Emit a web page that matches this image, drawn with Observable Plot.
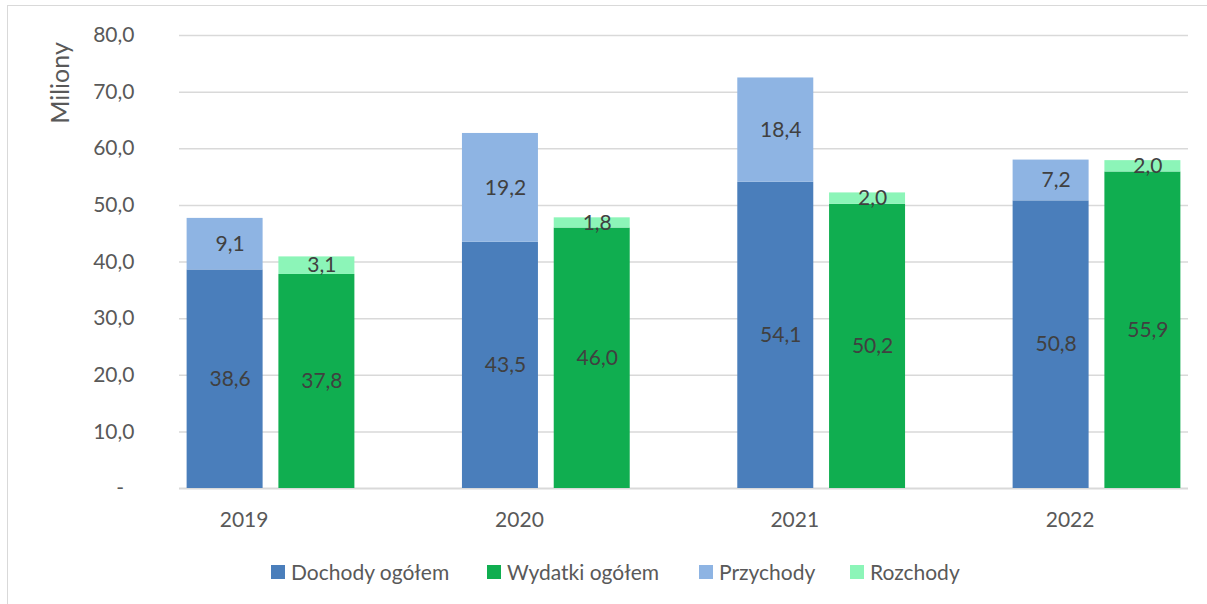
<!DOCTYPE html>
<html>
<head>
<meta charset="utf-8">
<script src="https://cdn.jsdelivr.net/npm/d3@7"></script>
<script src="https://cdn.jsdelivr.net/npm/@observablehq/plot@0.6"></script>
<style>
  html, body { margin: 0; padding: 0; background: #fff; overflow: hidden; }
  body { width: 1207px; height: 604px; position: relative; font-family: Lato, "Open Sans", sans-serif; }
  #frame { position: absolute; left: 7px; top: 5px; width: 1210px; height: 610px; border: 1px solid #d9d9d9; box-sizing: border-box; }
  #chart { position: absolute; left: 0; top: 0; }
  #ylabel { position: absolute; left: 51px; top: 77px; transform: translate(-50%, -50%) rotate(-90deg); font-size: 25px; color: #595959; white-space: nowrap; line-height: 1; }
  #legend { position: absolute; left: 263px; top: 554px; display: flex; align-items: center; font-size: 21px; color: #595959; line-height: 24px; white-space: nowrap; }
  #legend .item { display: flex; align-items: center; }
  #legend .item:nth-child(1) { width: 216px; }
  #legend .item:nth-child(2) { width: 212px; }
  #legend .item:nth-child(3) { width: 151px; }
  #legend .sw { width: 14px; height: 14px; margin-right: 6px; }
</style>
</head>
<body>
<div id="frame">
  <div id="chart"></div>
  <div id="ylabel">Miliony</div>
  <div id="legend"></div>
</div>
<script>
// ---- data ----
const years = ["2019", "2020", "2021", "2022"];
const dochody = [38.6, 43.5, 54.1, 50.8];
const przychody = [9.1, 19.2, 18.4, 7.2];
const wydatki = [37.8, 46.0, 50.2, 55.9];
const rozchody = [3.1, 1.8, 2.0, 2.0];
const seriesNames = ["Dochody ogółem", "Wydatki ogółem", "Przychody", "Rozchody"];
const seriesColors = ["#4a7ebb", "#10ae50", "#8eb4e3", "#8cf5b8"];
const yTicks = [0, 10, 20, 30, 40, 50, 60, 70, 80];

// ---- table ----
// x slots: for each year a "D" column (dochody + przychody), a "W" column
// (wydatki + rozchody), and an empty spacer slot between year groups
const slots = years.flatMap((y, i) => i < years.length - 1 ? [y + " D", y + " W", y + " _"] : [y + " D", y + " W"]);
const rows = [];
years.forEach((year, i) => {
  rows.push({slot: year + " D", series: "Dochody ogółem", value: dochody[i]});
  rows.push({slot: year + " D", series: "Przychody", value: przychody[i]});
  rows.push({slot: year + " W", series: "Wydatki ogółem", value: wydatki[i]});
  rows.push({slot: year + " W", series: "Rozchody", value: rozchody[i]});
});

const fmt = v => v === 0 ? "-\u2002" : v.toFixed(1).replace(".", ",");

const chart = Plot.plot({
  width: 1199,
  height: 540,
  marginLeft: 171,
  marginRight: 19,
  marginTop: 29,
  marginBottom: 58,
  style: { fontFamily: "Lato, 'Open Sans', sans-serif", fontSize: "21px", background: "transparent", overflow: "visible" },
  x: { domain: slots, paddingInner: 0.172, paddingOuter: 0.083, align: 0.5, round: false },
  y: { domain: [0, 80], label: null },
  color: { domain: seriesNames, range: seriesColors },
  marks: [
    Plot.gridY({ ticks: yTicks.filter(d => d > 0), stroke: "#d9d9d9", strokeOpacity: 1, strokeWidth: 1.5 }),
    Plot.ruleY([0], { stroke: "#d9d9d9", strokeWidth: 2 }),
    Plot.barY(rows, Plot.stackY({ x: "slot", y: "value", fill: "series" })),
    Plot.text(rows, Plot.stackY({ x: "slot", y: "value", text: d => fmt(d.value), fill: "#404040", fontSize: 21, dx: 5 })),
    Plot.axisY({ ticks: yTicks, tickSize: 0, tickPadding: 45, tickFormat: fmt, fill: "#595959", fontSize: 21, label: null }),
    Plot.axisX({ ticks: years.map(y => y + " D"), tickFormat: k => k.slice(0, 4), tickSize: 0, tickPadding: 24, fill: "#595959", fontSize: 21, dx: 19, label: null })
  ]
});
document.getElementById("chart").appendChild(chart);

// ---- legend ----
const legend = document.getElementById("legend");
seriesNames.forEach((name, i) => {
  const item = document.createElement("div");
  item.className = "item";
  const sw = document.createElement("span");
  sw.className = "sw";
  sw.style.background = seriesColors[i];
  const label = document.createElement("span");
  label.textContent = name;
  item.appendChild(sw);
  item.appendChild(label);
  legend.appendChild(item);
});
</script>
</body>
</html>
